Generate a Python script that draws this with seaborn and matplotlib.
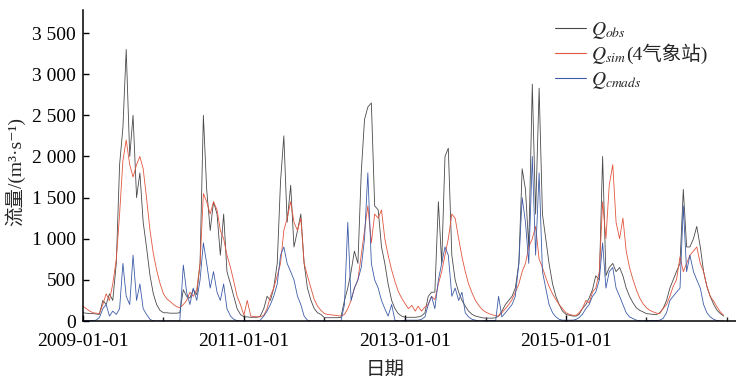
import pandas as pd
import matplotlib
matplotlib.use('Agg')
import matplotlib.pyplot as plt
import matplotlib.dates as mdates
from matplotlib.lines import Line2D
from matplotlib.ticker import FuncFormatter, MultipleLocator
import seaborn as sns

# semi-monthly readings (1st and 16th of each month), m3/s
years = list(range(2009, 2017))
label_years = [2009, 2011, 2013, 2015]

obs_2009 = [100, 95, 90, 90, 85, 80, 250, 200, 330, 250, 700, 1900, 2350, 3300, 2000, 2500, 1500, 1800, 1200, 900, 550, 330, 200, 130]
obs_2010 = [100, 100, 95, 95, 95, 100, 380, 300, 280, 380, 320, 700, 2500, 1600, 1100, 1450, 1300, 800, 1300, 600, 450, 300, 150, 80]
obs_2011 = [50, 50, 45, 45, 45, 60, 150, 300, 250, 400, 700, 1700, 2250, 1200, 1650, 900, 1100, 1300, 700, 400, 250, 150, 100, 80]
obs_2012 = [40, 40, 40, 40, 40, 45, 250, 400, 600, 850, 700, 1800, 2450, 2600, 2650, 1400, 1350, 900, 700, 450, 250, 150, 90, 60]
obs_2013 = [45, 45, 45, 45, 50, 60, 100, 300, 350, 350, 1450, 700, 2000, 2100, 800, 500, 350, 250, 180, 120, 80, 60, 50, 40]
obs_2014 = [35, 35, 35, 40, 60, 120, 200, 250, 300, 400, 700, 1850, 1600, 900, 2880, 1300, 2830, 1300, 1000, 700, 450, 300, 200, 120]
obs_2015 = [80, 70, 60, 60, 80, 150, 200, 280, 380, 550, 500, 2000, 550, 650, 700, 600, 650, 550, 400, 300, 220, 160, 130, 110]
obs_2016 = [90, 85, 80, 80, 100, 150, 250, 400, 500, 600, 700, 1600, 900, 900, 1000, 1150, 900, 600, 420, 300, 200, 130, 90, 60]

sim_2009 = [180, 150, 120, 100, 95, 90, 200, 330, 250, 450, 750, 1300, 1950, 2200, 1900, 1750, 1900, 2000, 1850, 1500, 1100, 820, 620, 460]
sim_2010 = [330, 270, 235, 200, 175, 160, 200, 250, 350, 300, 380, 700, 1550, 1450, 1300, 1450, 1350, 1100, 1000, 800, 650, 480, 300, 200]
sim_2011 = [70, 250, 60, 55, 50, 50, 70, 150, 300, 400, 550, 700, 1100, 1250, 1450, 1200, 1100, 1250, 700, 550, 400, 260, 180, 130]
sim_2012 = [90, 80, 75, 70, 65, 60, 80, 150, 250, 400, 500, 800, 1100, 1400, 950, 1300, 1250, 1350, 1000, 800, 620, 480, 360, 280]
sim_2013 = [210, 150, 190, 120, 180, 120, 170, 200, 300, 260, 450, 600, 800, 1000, 1300, 1250, 1000, 780, 600, 450, 340, 250, 190, 140]
sim_2014 = [110, 90, 75, 65, 60, 100, 150, 200, 260, 350, 450, 600, 700, 900, 1000, 1150, 750, 650, 530, 420, 330, 260, 200, 150]
sim_2015 = [100, 80, 70, 70, 100, 150, 250, 220, 350, 400, 600, 1450, 1000, 1650, 1900, 1200, 1000, 1250, 850, 650, 500, 380, 280, 210]
sim_2016 = [160, 130, 110, 95, 90, 150, 200, 300, 420, 500, 780, 600, 700, 800, 850, 900, 700, 600, 420, 300, 240, 170, 110, 70]

cmads_2009 = [5, 5, 5, 5, 10, 40, 150, 200, 60, 120, 80, 150, 700, 300, 200, 800, 250, 450, 150, 80, 20, 0, 0, 0]
cmads_2010 = [0, 0, 0, 0, 0, 0, 680, 350, 200, 400, 250, 500, 950, 700, 400, 600, 350, 250, 450, 150, 60, 20, 5, 0]
cmads_2011 = [0, 0, 0, 0, 0, 10, 60, 120, 200, 300, 450, 800, 900, 700, 600, 500, 300, 200, 60, 10, 0, 0, 0, 0]
cmads_2012 = [0, 0, 0, 0, 0, 0, 200, 1200, 250, 400, 500, 650, 1000, 1800, 700, 500, 400, 250, 150, 60, 200, 10, 0, 0]
cmads_2013 = [10, 10, 10, 10, 10, 20, 50, 200, 300, 150, 500, 700, 900, 800, 300, 400, 250, 350, 100, 50, 20, 10, 0, 0]
cmads_2014 = [5, 5, 5, 5, 300, 50, 100, 150, 200, 300, 700, 1500, 1200, 700, 2000, 800, 1800, 600, 400, 200, 100, 50, 20, 10]
cmads_2015 = [10, 10, 10, 20, 40, 80, 150, 200, 300, 350, 500, 950, 400, 600, 650, 400, 300, 200, 100, 50, 30, 10, 5, 0]
cmads_2016 = [5, 5, 5, 5, 10, 30, 100, 250, 300, 350, 400, 1400, 600, 800, 600, 500, 400, 200, 100, 50, 20, 5, 0, 0]

obs = obs_2009 + obs_2010 + obs_2011 + obs_2012 + obs_2013 + obs_2014 + obs_2015 + obs_2016
sim = sim_2009 + sim_2010 + sim_2011 + sim_2012 + sim_2013 + sim_2014 + sim_2015 + sim_2016
cmads = cmads_2009 + cmads_2010 + cmads_2011 + cmads_2012 + cmads_2013 + cmads_2014 + cmads_2015 + cmads_2016

dates = pd.to_datetime([f'{y}-{m:02d}-{d:02d}' for y in years for m in range(1, 13) for d in (1, 16)])
df = pd.DataFrame({'date': dates, 'obs': obs, 'sim': sim, 'cmads': cmads})

colors = {'obs': '#4a4a4a', 'sim': '#e2563e', 'cmads': '#3d5ca8'}
labels = {'obs': r'$Q_{obs}$', 'sim': r'$Q_{sim}$', 'cmads': r'$Q_{cmads}$'}

sns.set_style('ticks')
plt.rcParams['font.family'] = ['Liberation Serif', 'Noto Sans CJK SC', 'DejaVu Serif']
plt.rcParams['mathtext.fontset'] = 'stix'

fig = plt.figure(figsize=(7.36, 3.81), dpi=100)
ax = fig.add_axes([83 / 736, 1 - 321 / 381, 1 - 83 / 736, 311 / 381])

for key in ['obs', 'sim', 'cmads']:
    sns.lineplot(data=df, x='date', y=key, ax=ax, color=colors[key], linewidth=0.6, legend=False)

ax.set_xlim(pd.Timestamp('2009-01-01'), pd.Timestamp('2017-02-10'))
ax.set_ylim(0, 3780)
ax.yaxis.set_major_locator(MultipleLocator(500))
ax.yaxis.set_major_formatter(FuncFormatter(lambda v, p: f'{int(v):,}'.replace(',', ' ')))
ax.set_xticks([pd.Timestamp(f'{y}-01-01') for y in label_years])
ax.xaxis.set_minor_locator(mdates.YearLocator(1))
ax.xaxis.set_major_formatter(mdates.DateFormatter('%Y-%m-%d'))

sns.despine(ax=ax)
for s in ['left', 'bottom']:
    ax.spines[s].set_color('black')
    ax.spines[s].set_linewidth(1.1)
ax.tick_params(axis='both', which='major', direction='in', length=4, width=1, labelsize=14, colors='black')
ax.tick_params(axis='x', which='minor', direction='in', length=3, width=1)
ax.tick_params(axis='x', pad=9)
ax.tick_params(axis='y', pad=5)

ax.set_xlabel('日期', fontsize=14)
ax.set_ylabel('流量/(m³·s⁻¹)', fontsize=14)
ax.xaxis.set_label_coords(0.4625, -0.13)
ax.yaxis.set_label_coords(-0.088, 0.48)

handles = [Line2D([], [], color=colors[k], linewidth=0.8) for k in ['obs', 'sim', 'cmads']]
leg = ax.legend(handles, [labels[k] for k in ['obs', 'sim', 'cmads']],
                loc='upper left', bbox_to_anchor=(555 / 736, 1 - 20 / 381), bbox_transform=fig.transFigure,
                frameon=False, fontsize=14, handlelength=1.6, handletextpad=0.25, labelspacing=0.2,
                borderpad=0, borderaxespad=0)

# station note after Q_sim (kept outside mathtext so the CJK font is used)
fig.canvas.draw()
bb = leg.get_texts()[1].get_window_extent(fig.canvas.get_renderer())
fig.text(bb.x1 / 736 + 0.001, (bb.y1 + 1) / 381, '(4气象站)', fontsize=14, va='top', ha='left')

fig.savefig('out.png', dpi=100)
